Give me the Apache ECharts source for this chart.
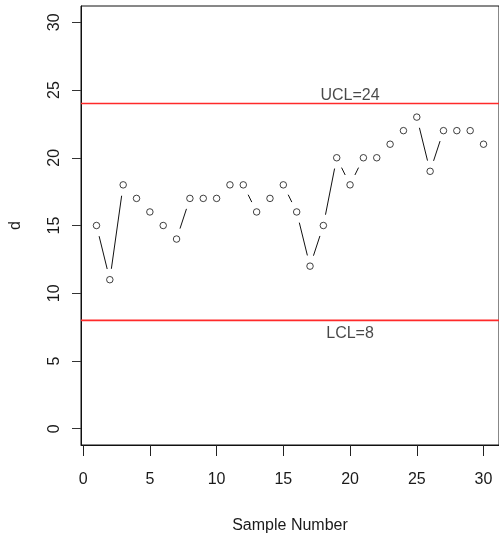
<!DOCTYPE html>
<html>
<head>
<meta charset="utf-8">
<script src="https://cdn.jsdelivr.net/npm/echarts@6/dist/echarts.min.js"></script>
<style>
  html, body { margin: 0; padding: 0; background: #ffffff; }
  #chart { width: 499px; height: 539px; }
</style>
</head>
<body>
<div id="chart"></div>
<script>
// Sample numbers and the count statistic d for each sample
const sampleNumbers = [1, 2, 3, 4, 5, 6, 7, 8, 9, 10, 11, 12, 13, 14, 15, 16, 17, 18, 19, 20, 21, 22, 23, 24, 25, 26, 27, 28, 29, 30];
const dValues = [15, 11, 18, 17, 16, 15, 14, 17, 17, 17, 18, 18, 16, 17, 18, 16, 12, 15, 20, 18, 20, 20, 21, 22, 23, 19, 22, 22, 22, 21];

// Axis tick labels
const xTicks = [0, 5, 10, 15, 20, 25, 30];
const yTicks = [0, 5, 10, 15, 20, 25, 30];

// Control limits and where their labels sit along x
const ucl = 24;
const lcl = 8;
const limitLabelX = 20;

// Axis extents padded by 4% of the range on each side
const xLo = 1, xHi = 30, yLo = 0, yHi = 30;
const xPad = (xHi - xLo) * 0.04;
const yPad = (yHi - yLo) * 0.04;
const xMin = xLo - xPad, xMax = xHi + xPad;
const yMin = yLo - yPad, yMax = yHi + yPad;

const FONT = '"Liberation Sans Narrow", "Arial Narrow", "Liberation Sans", Arial, sans-serif';
const FS = 16;
const TEXT = '#1a1a1a';

const points = sampleNumbers.map((x, i) => [x, dValues[i]]);
const segments = [];
for (let i = 0; i < points.length - 1; i++) {
  segments.push([points[i][0], points[i][1], points[i + 1][0], points[i + 1][1]]);
}

// Connecting segments leave a gap around each point marker
const GAP = 11;
function renderSegment(params, api) {
  const p1 = api.coord([api.value(0), api.value(1)]);
  const p2 = api.coord([api.value(2), api.value(3)]);
  const dx = p2[0] - p1[0], dy = p2[1] - p1[1];
  const len = Math.sqrt(dx * dx + dy * dy);
  if (len <= 2 * GAP) return null;
  const ux = dx / len, uy = dy / len;
  return {
    type: 'line',
    shape: {
      x1: p1[0] + ux * GAP, y1: p1[1] + uy * GAP,
      x2: p2[0] - ux * GAP, y2: p2[1] - uy * GAP
    },
    style: { stroke: '#111', lineWidth: 1 }
  };
}

const chart = echarts.init(document.getElementById('chart'), null, { renderer: 'canvas' });

chart.setOption({
  animation: false,
  backgroundColor: '#ffffff',
  grid: {
    left: 79, top: 6, width: 423.6, height: 441,
    show: true, borderColor: '#111', borderWidth: 1, backgroundColor: 'transparent'
  },
  xAxis: {
    type: 'value',
    min: xMin, max: xMax,
    name: 'Sample Number',
    nameLocation: 'middle',
    nameGap: 73,
    nameTextStyle: { fontFamily: FONT, fontSize: FS, color: TEXT },
    axisLine: { show: true, onZero: false, lineStyle: { color: '#111', width: 1 } },
    axisTick: { show: true, length: 11, inside: false, customValues: xTicks, lineStyle: { color: '#222' } },
    axisLabel: { show: true, customValues: xTicks, margin: 27, fontFamily: FONT, fontSize: FS, color: TEXT },
    splitLine: { show: false }
  },
  yAxis: {
    type: 'value',
    min: yMin, max: yMax,
    name: 'd',
    nameLocation: 'middle',
    nameRotate: 90,
    nameGap: 57,
    nameTextStyle: { fontFamily: FONT, fontSize: FS, color: TEXT },
    axisLine: { show: true, onZero: false, lineStyle: { color: '#111', width: 1 } },
    axisTick: { show: true, length: 9, inside: false, customValues: yTicks, lineStyle: { color: '#333' } },
    axisLabel: { show: true, customValues: yTicks, rotate: 90, margin: 18, fontFamily: FONT, fontSize: FS, color: TEXT },
    splitLine: { show: false }
  },
  series: [
    {
      type: 'line',
      data: [[xMin, ucl], [xMax, ucl]],
      symbol: 'none',
      lineStyle: { color: '#ff2a2a', width: 1.6 },
      silent: true
    },
    {
      type: 'line',
      data: [[xMin, lcl], [xMax, lcl]],
      symbol: 'none',
      lineStyle: { color: '#ff2a2a', width: 1.6 },
      silent: true
    },
    {
      type: 'custom',
      data: segments,
      renderItem: renderSegment,
      silent: true
    },
    {
      type: 'scatter',
      data: points,
      symbol: 'circle',
      symbolSize: 6.5,
      itemStyle: { color: '#ffffff', borderColor: '#111', borderWidth: 1 },
      silent: true
    },
    {
      type: 'scatter',
      data: [[limitLabelX, ucl]],
      symbolSize: 0,
      label: {
        show: true, position: 'top', distance: 0,
        formatter: () => 'UCL=' + ucl,
        fontFamily: FONT, fontSize: FS, lineHeight: FS, color: TEXT
      },
      silent: true
    },
    {
      type: 'scatter',
      data: [[limitLabelX, lcl]],
      symbolSize: 0,
      label: {
        show: true, position: 'bottom', distance: 5,
        formatter: () => 'LCL=' + lcl,
        fontFamily: FONT, fontSize: FS, lineHeight: FS, color: TEXT
      },
      silent: true
    }
  ]
});
</script>
</body>
</html>
